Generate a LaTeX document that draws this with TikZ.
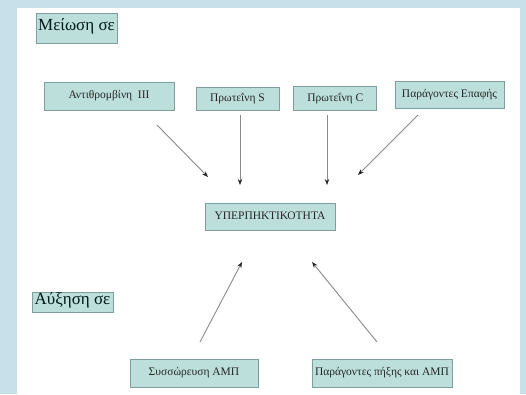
\documentclass[tikz,border=0pt]{standalone}
\usepackage{fontspec}
\setmainfont{Liberation Serif}
\usepackage{tikz}
\usetikzlibrary{arrows.meta, positioning}
\definecolor{pagebg}{HTML}{C8E0EA}
\definecolor{boxfill}{HTML}{BCDFDC}
\definecolor{boxline}{HTML}{7F9E9E}
\definecolor{arrline}{HTML}{8A8A8A}
\tikzset{
  cause/.style={
    rectangle,
    draw=boxline, thick,
    fill=boxfill,
    inner sep=1pt,
    font=\fontsize{11.5}{13}\selectfont,
    text=black!85,
    text height=1.5ex, text depth=.25ex
  },
  heading/.style={
    cause,
    font=\fontsize{17}{19}\selectfont,
    text=black!80!teal
  },
  link/.style={
    draw=arrline, line width=0.9pt,
    -{Stealth[length=6pt, width=4.5pt, color=black!85]}
  }
}

\begin{document}
\begin{tikzpicture}[x=1pt, y=-1pt]
          \fill[pagebg] (0,0) rectangle (526,394);
          \fill[white] (17,8) rectangle (520,394);

          \node[heading, minimum width=81pt, minimum height=30pt] (less) at (76.5,28) {Μείωση σε};
          \node[heading, minimum width=81pt, minimum height=20pt] (more) at (72.5,302) {Αύξηση σε};

          \node[cause, minimum width=130pt, minimum height=28pt] (anti) at (109,96) {Αντιθρομβίνη \ ΙΙΙ};
          \node[cause, minimum width=83pt, minimum height=23pt] (protS) at (237.5,98.5) {Πρωτεΐνη S};
          \node[cause, minimum width=83pt, minimum height=24pt] (protC) [right=14pt of protS] {Πρωτεΐνη C};
          \node[cause, minimum width=109pt, minimum height=27pt] (contact) at (449.5,94.5) {Παράγοντες Επαφής};

          \node[cause, minimum width=130pt, minimum height=27pt] (hyper) at (270,216.5) {ΥΠΕΡΠΗΚΤΙΚΟΤΗΤΑ};

          \node[cause, minimum width=128pt, minimum height=28pt] (accum) at (194,373) {Συσσώρευση ΑΜΠ};
          \node[cause, minimum width=140pt, minimum height=28pt] (factors) at (382,373) {Παράγοντες πήξης και ΑΜΠ};

          % free ends of the arrows
          \coordinate (antiOut) at (157,125);
          \coordinate (antiIn) at (208,177);
          \coordinate (protSOut) at (240,115);
          \coordinate (protSIn) at (240,185);
          \coordinate (protCOut) at (327,115);
          \coordinate (protCIn) at (327,185);
          \coordinate (contactOut) at (418,115);
          \coordinate (contactIn) at (358,175);
          \coordinate (accumOut) at (200,342);
          \coordinate (accumIn) at (242,262);
          \coordinate (factorsOut) at (377,342);
          \coordinate (factorsIn) at (312,262);

          \draw[link] (antiOut) -- (antiIn);
          \draw[link] (protSOut) -- (protSIn);
          \draw[link] (protCOut) -- (protCIn);
          \draw[link] (contactOut) -- (contactIn);
          \draw[link] (accumOut) -- (accumIn);
          \draw[link] (factorsOut) -- (factorsIn);
        \end{tikzpicture}
\end{document}
